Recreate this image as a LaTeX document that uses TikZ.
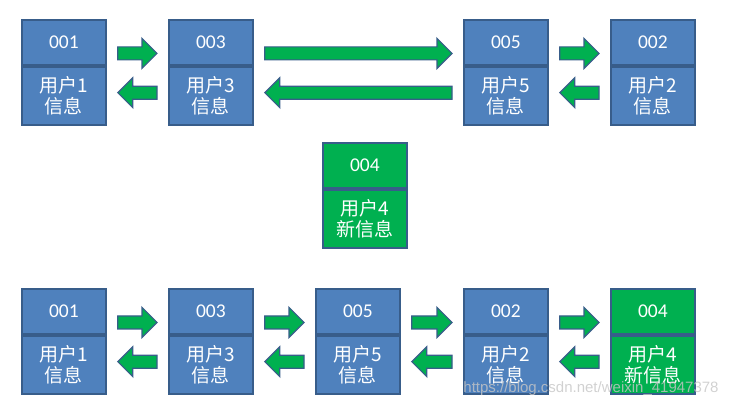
\documentclass[tikz,border=0pt]{standalone}
\usepackage{fontspec}
\setmainfont{Carlito}
\newfontfamily\cjk{Noto Sans CJK SC}
\newfontfamily\wmfont{Liberation Sans}
\usetikzlibrary{positioning,calc}
\definecolor{boxblue}{HTML}{4F81BD}
\definecolor{edgeblue}{HTML}{385D8A}
\definecolor{newgreen}{HTML}{00B050}
\tikzset{
  idbox/.style={draw=edgeblue, line width=1.8pt, fill=boxblue, text=white,
    minimum width=84pt, minimum height=45pt, inner sep=0pt,
    font=\fontsize{19.5}{21}\selectfont, anchor=north west},
  infobox/.style={idbox, minimum height=58pt, align=center,
    font=\cjk\fontsize{19}{21}\selectfont},
  newbox/.style={fill=newgreen},
  blk/.style={draw=edgeblue, line width=1.2pt, fill=newgreen, line join=miter,
    to path={
      ($(\tikztostart)!6.5pt!90:(\tikztotarget)$)
      -- ($(\tikztotarget)!15pt!(\tikztostart)!6.5pt!90:(\tikztotarget)$)
      -- ($(\tikztotarget)!15pt!(\tikztostart)!15pt!90:(\tikztotarget)$)
      -- (\tikztotarget)
      -- ($(\tikztotarget)!15pt!(\tikztostart)!15pt!-90:(\tikztotarget)$)
      -- ($(\tikztotarget)!15pt!(\tikztostart)!6.5pt!-90:(\tikztotarget)$)
      -- ($(\tikztostart)!6.5pt!-90:(\tikztotarget)$) -- cycle}}
}
\begin{document}
\begin{tikzpicture}[x=1pt,y=-1pt]
  \useasboundingbox (0,0) rectangle (739,409);

  % Lista original
  \node[idbox] (u1) at (21,19) {001};
  \node[infobox, below=0pt of u1] (u1i) {用户1\\信息};
  \node[idbox] (u3) at (168,19) {003};
  \node[infobox, below=0pt of u3] (u3i) {用户3\\信息};
  \node[idbox] (u5) at (463,19) {005};
  \node[infobox, below=0pt of u5] (u5i) {用户5\\信息};
  \node[idbox] (u2) at (610,19) {002};
  \node[infobox, below=0pt of u2] (u2i) {用户2\\信息};

  \draw[blk] ([shift={(11,11)}]u1.east) to ([shift={(-11,11)}]u3.west);
  \draw[blk] ([shift={(-11,-3)}]u3i.west) to ([shift={(11,-3)}]u1i.east);
  \draw[blk] ([shift={(11,11)}]u3.east) to ([shift={(-11,11)}]u5.west);
  \draw[blk] ([shift={(-11,-3)}]u5i.west) to ([shift={(11,-3)}]u3i.east);
  \draw[blk] ([shift={(11,11)}]u5.east) to ([shift={(-11,11)}]u2.west);
  \draw[blk] ([shift={(-11,-3)}]u2i.west) to ([shift={(11,-3)}]u5i.east);

  % Novo elemento
  \node[idbox, newbox] (m4) at (322,142) {004};
  \node[infobox, newbox, below=0pt of m4] (m4i) {用户4\\新信息};

  % Lista depois do acesso
  \node[idbox] (b1) at (21,288) {001};
  \node[infobox, below=0pt of b1] (b1i) {用户1\\信息};
  \node[idbox] (b3) at (168,288) {003};
  \node[infobox, below=0pt of b3] (b3i) {用户3\\信息};
  \node[idbox] (b5) at (315,288) {005};
  \node[infobox, below=0pt of b5] (b5i) {用户5\\信息};
  \node[idbox] (b2) at (463,288) {002};
  \node[infobox, below=0pt of b2] (b2i) {用户2\\信息};
  \node[idbox, newbox] (b4) at (610,288) {004};
  \node[infobox, newbox, below=0pt of b4] (b4i) {用户4\\新信息};

  \draw[blk] ([shift={(11,11)}]b1.east) to ([shift={(-11,11)}]b3.west);
  \draw[blk] ([shift={(-11,-3)}]b3i.west) to ([shift={(11,-3)}]b1i.east);
  \draw[blk] ([shift={(11,11)}]b3.east) to ([shift={(-11,11)}]b5.west);
  \draw[blk] ([shift={(-11,-3)}]b5i.west) to ([shift={(11,-3)}]b3i.east);
  \draw[blk] ([shift={(11,11)}]b5.east) to ([shift={(-11,11)}]b2.west);
  \draw[blk] ([shift={(-11,-3)}]b2i.west) to ([shift={(11,-3)}]b5i.east);
  \draw[blk] ([shift={(11,11)}]b2.east) to ([shift={(-11,11)}]b4.west);
  \draw[blk] ([shift={(-11,-3)}]b4i.west) to ([shift={(11,-3)}]b2i.east);

  % Marca d'agua
  \node[text=gray!45, opacity=0.8, font=\wmfont\fontsize{15}{15}\selectfont] (wm) at (591,389) {https://blog.csdn.net/weixin\_41947378};
\end{tikzpicture}
\end{document}
